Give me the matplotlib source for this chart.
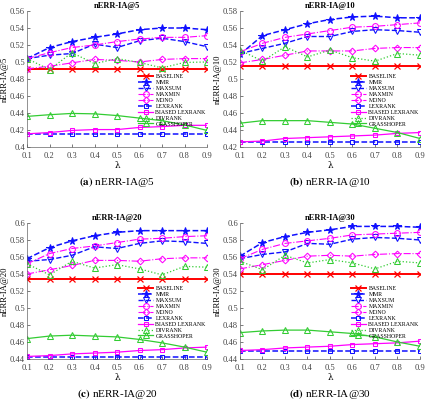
import matplotlib
matplotlib.use('Agg')
import matplotlib.pyplot as plt
from matplotlib.ticker import FuncFormatter

plt.rcParams['font.family'] = ['Liberation Serif', 'DejaVu Serif']
plt.rcParams['mathtext.fontset'] = 'stix'

lam = [0.1, 0.2, 0.3, 0.4, 0.5, 0.6, 0.7, 0.8, 0.9]
cutoffs = [5, 10, 20, 30]
panel_tags = ['a', 'b', 'c', 'd']
ylims = [(0.40, 0.54), (0.42, 0.58), (0.44, 0.60), (0.44, 0.60)]

# constant methods, one value per cutoff
baseline = [0.492, 0.515, 0.534, 0.540]
lexrank = [0.4155, 0.4255, 0.442, 0.4493]

# nERR-IA@5
mmr_5 = [0.504, 0.517, 0.524, 0.529, 0.533, 0.538, 0.540, 0.540, 0.538]
maxsum_5 = [0.504, 0.508, 0.510, 0.521, 0.517, 0.525, 0.528, 0.524, 0.518]
maxmin_5 = [0.504, 0.511, 0.517, 0.520, 0.524, 0.527, 0.529, 0.529, 0.531]
mono_5 = [0.492, 0.495, 0.499, 0.503, 0.502, 0.500, 0.503, 0.504, 0.504]
biased_5 = [0.4155, 0.417, 0.4195, 0.4205, 0.4205, 0.423, 0.424, 0.4255, 0.4255]
divrank_5 = [0.504, 0.491, 0.511, 0.498, 0.504, 0.4995, 0.493, 0.4995, 0.500]
grass_5 = [0.436, 0.438, 0.4395, 0.439, 0.437, 0.434, 0.431, 0.426, 0.4195]

# nERR-IA@10
mmr_10 = [0.529, 0.551, 0.558, 0.565, 0.570, 0.573, 0.574, 0.572, 0.572]
maxsum_10 = [0.530, 0.536, 0.542, 0.550, 0.550, 0.556, 0.558, 0.557, 0.555]
maxmin_10 = [0.532, 0.542, 0.549, 0.553, 0.557, 0.561, 0.562, 0.564, 0.566]
mono_10 = [0.519, 0.523, 0.528, 0.533, 0.533, 0.533, 0.536, 0.537, 0.537]
biased_10 = [0.426, 0.427, 0.430, 0.431, 0.432, 0.433, 0.434, 0.436, 0.437]
divrank_10 = [0.534, 0.521, 0.538, 0.526, 0.534, 0.525, 0.521, 0.530, 0.528]
grass_10 = [0.448, 0.451, 0.451, 0.451, 0.449, 0.447, 0.442, 0.437, 0.430]

# nERR-IA@20
mmr_20 = [0.558, 0.571, 0.579, 0.585, 0.589, 0.591, 0.591, 0.591, 0.591]
maxsum_20 = [0.555, 0.557, 0.562, 0.572, 0.570, 0.576, 0.579, 0.578, 0.576]
maxmin_20 = [0.552, 0.564, 0.570, 0.573, 0.577, 0.581, 0.582, 0.584, 0.585]
mono_20 = [0.540, 0.545, 0.550, 0.556, 0.556, 0.555, 0.558, 0.559, 0.559]
biased_20 = [0.443, 0.444, 0.446, 0.447, 0.448, 0.450, 0.451, 0.453, 0.454]
divrank_20 = [0.552, 0.539, 0.555, 0.547, 0.551, 0.546, 0.539, 0.549, 0.548]
grass_20 = [0.464, 0.467, 0.468, 0.467, 0.466, 0.463, 0.459, 0.454, 0.448]

# nERR-IA@30
mmr_30 = [0.561, 0.577, 0.584, 0.589, 0.592, 0.596, 0.596, 0.596, 0.595]
maxsum_30 = [0.558, 0.563, 0.566, 0.576, 0.575, 0.581, 0.583, 0.582, 0.580]
maxmin_30 = [0.558, 0.569, 0.576, 0.579, 0.582, 0.586, 0.587, 0.588, 0.589]
mono_30 = [0.546, 0.551, 0.556, 0.561, 0.562, 0.561, 0.563, 0.564, 0.564]
biased_30 = [0.450, 0.451, 0.453, 0.454, 0.455, 0.457, 0.458, 0.459, 0.461]
divrank_30 = [0.555, 0.545, 0.562, 0.553, 0.557, 0.553, 0.546, 0.555, 0.553]
grass_30 = [0.471, 0.473, 0.474, 0.474, 0.472, 0.470, 0.466, 0.460, 0.455]

mmr = [mmr_5, mmr_10, mmr_20, mmr_30]
maxsum = [maxsum_5, maxsum_10, maxsum_20, maxsum_30]
maxmin = [maxmin_5, maxmin_10, maxmin_20, maxmin_30]
mono = [mono_5, mono_10, mono_20, mono_30]
biased = [biased_5, biased_10, biased_20, biased_30]
divrank = [divrank_5, divrank_10, divrank_20, divrank_30]
grass = [grass_5, grass_10, grass_20, grass_30]

RED = '#ff0000'
BLUE = '#1010ff'
MAG = '#ff00ff'
GREEN = '#33cc33'

# axes boxes in pixels: left, top (from figure top)
W, H = 427, 401
boxes = [(27, 11), (240, 11), (27, 223), (240, 223)]
aw, ah = 180, 136

fig = plt.figure(figsize=(W / 100, H / 100), dpi=100)

for i, k in enumerate(cutoffs):
    left, top = boxes[i]
    ax = fig.add_axes([left / W, 1 - (top + ah) / H, aw / W, ah / H])
    n = len(lam)
    ms = 4.2
    mew = 0.75
    ax.plot(lam, [baseline[i]] * n, color=RED, ls='-', lw=1.4, marker='x', ms=ms, mew=0.9, label='BASELINE')
    ax.plot(lam, mmr[i], color=BLUE, ls='--', lw=1.1, marker='*', ms=ms + 1.2, mew=mew, label='MMR')
    ax.plot(lam, maxsum[i], color=BLUE, ls='--', lw=1.0, marker='v', ms=ms, mew=mew, mfc='none', label='MAXSUM')
    ax.plot(lam, maxmin[i], color=MAG, ls='-.', lw=0.8, marker='o', ms=ms, mew=mew, mfc='none', label='MAXMIN')
    ax.plot(lam, mono[i], color=MAG, ls='-.', lw=0.8, marker='D', ms=ms - 0.8, mew=mew, mfc='none', label='MONO')
    ax.plot(lam, [lexrank[i]] * n, color=BLUE, ls='--', lw=1.1, marker='s', ms=ms - 0.7, mew=mew, mfc='none', label='LEXRANK')
    ax.plot(lam, biased[i], color=MAG, ls='-', lw=0.9, marker='s', ms=ms - 0.7, mew=mew, mfc='none', label='BIASED LEXRANK')
    ax.plot(lam, divrank[i], color=GREEN, ls=':', lw=0.9, marker='^', ms=ms, mew=mew, mfc='none', label='DIVRANK')
    ax.plot(lam, grass[i], color=GREEN, ls='-', lw=0.9, marker='^', ms=ms, mew=mew, mfc='none', label='GRASSHOPER')

    ax.set_xlim(0.1, 0.9)
    ax.set_ylim(*ylims[i])
    ax.set_xticks(lam)
    ax.set_yticks([ylims[i][0] + 0.02 * j for j in range(9)])
    ax.xaxis.set_major_formatter(FuncFormatter(lambda v, p: '%g' % round(v, 2)))
    ax.yaxis.set_major_formatter(FuncFormatter(lambda v, p: '%g' % round(v, 2)))
    ax.tick_params(direction='in', length=2, width=0.5, labelsize=6.1, pad=1.5, colors='#444444')
    ax.tick_params(axis='x', pad=3.5)
    for side in ['top', 'right']:
        ax.spines[side].set_visible(False)
    for side in ['left', 'bottom']:
        ax.spines[side].set_linewidth(0.5)
        ax.spines[side].set_color('#666666')

    ax.set_title('nERR-IA@%d' % k, fontsize=6, fontweight='bold', pad=2)
    ax.set_ylabel('nERR-IA@%d' % k, fontsize=6.2, labelpad=0.5)
    ax.set_xlabel('λ', fontsize=6.3, labelpad=0.5, family=['DejaVu Serif'])

    ax.legend(loc='upper left', bbox_to_anchor=(0.6, 0.56), fontsize=4.2,
              frameon=False, handlelength=2.6, labelspacing=0.15,
              borderpad=0, handletextpad=0.4)

    cx = (left + aw / 2) / W
    cy = 1 - (top + ah + 35) / H
    fig.text(cx, cy, r'$\mathbf{(%s)}$ nERR-IA@%d' % (panel_tags[i], k),
             ha='center', va='center', fontsize=8)

fig.savefig('out.png', dpi=100)
